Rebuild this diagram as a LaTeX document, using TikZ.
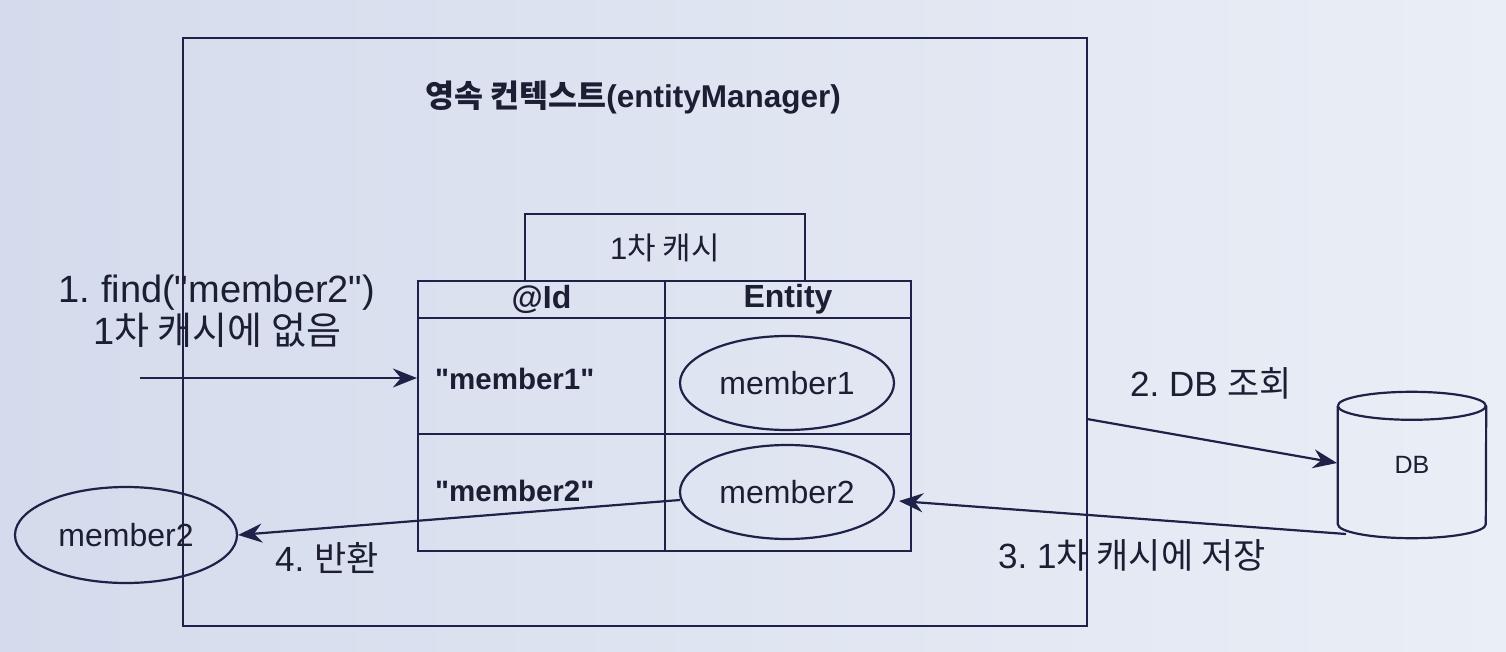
\documentclass[tikz,border=0pt]{standalone}
\usepackage{fontspec}
\setmainfont{Liberation Sans}[Ligatures=TeXOff]
\newfontfamily\kr{Noto Sans CJK KR}
\usetikzlibrary{arrows.meta,shapes.geometric,calc}
\definecolor{ink}{RGB}{30,33,72}
\definecolor{txt}{RGB}{28,30,52}
\definecolor{bgl}{RGB}{212,219,236}
\definecolor{bgr}{RGB}{234,238,246}
\newcommand{\fs}[1]{\fontsize{#1}{\dimexpr#1pt*6/5\relax}\selectfont}
\frenchspacing
\begin{document}
\begin{tikzpicture}[x=1pt,y=-1pt,
  line/.style={draw=ink,line width=2.2pt},
  cell/.style={line,rectangle,inner sep=0pt},
  ell/.style={line,ellipse,inner sep=0pt,minimum width=214pt,minimum height=94pt,text=txt,font=\fs{32}},
  lbl/.style={text=txt,font=\fs{35},inner sep=0pt},
  key/.style={text=txt,font=\fs{29.5}\bfseries,inner sep=0pt,anchor=west},
  arr/.style={draw=ink,line width=2.2pt,-{Stealth[length=24pt,width=19pt,inset=8pt]}}
]
\useasboundingbox (0,0) rectangle (1506,652);
\shade[left color=bgl,right color=bgr] (0,0) rectangle (1506,652);

% persistence context
\node[draw=ink,line width=1.8pt,rectangle,inner sep=0pt,minimum width=904pt,minimum height=588pt] (pc) at (635,332) {};
\node[text=txt,font=\fs{31.5}\bfseries,inner sep=0pt] (title) at (633,98) {{\kr 영속 컨텍스트}(entityManager)};

% cache tab
\node[cell,minimum width=280pt,minimum height=67pt,text=txt,font=\fs{31}] (tab) at (665,247.5) {1{\kr 차 캐시}};

% table
\node[cell,minimum width=247pt,minimum height=37pt,text=txt,font=\fs{32}\bfseries] (idh) at (541.5,299.5) {@Id};
\node[cell,minimum width=246pt,minimum height=37pt,text=txt,font=\fs{32}\bfseries] (enh) at (788,299.5) {Entity};
\node[cell,minimum width=247pt,minimum height=116pt] (r1a) at (541.5,376) {};
\node[cell,minimum width=246pt,minimum height=116pt] (r1b) at (788,376) {};
\node[cell,minimum width=247pt,minimum height=117pt] (r2a) at (541.5,492.5) {};
\node[cell,minimum width=246pt,minimum height=117pt] (r2b) at (788,492.5) {};

\node[key] (k1) at (435,379) {"member1"};
\node[key] (k2) at (435,491) {"member2"};

\node[ell] (m1) at (787,383) {member1};
\node[ell] (m2) at (787,492) {member2};

% returned entity
\node[ell,minimum width=222pt,minimum height=96pt] (out) at (126,535) {member2};

% DB cylinder
\node[text=txt,font=\fs{25},inner sep=0pt,minimum width=148pt,minimum height=146pt] (db) at (1412,465) {DB};
\draw[line] ($(db.north west)+(0,14)$) arc[start angle=180,end angle=-180,x radius=74pt,y radius=14pt];
\draw[line] ($(db.north west)+(0,14)$) -- ($(db.south west)+(0,-14)$) arc[start angle=180,end angle=360,x radius=74pt,y radius=14pt] -- ($(db.north east)+(0,14)$);

% arrows
\coordinate (a1s) at (140,378);
\draw[arr] (a1s) -- (r1a.west |- a1s);
\node[lbl,font=\fs{38},align=center] (l1) at (217,311) {1. find("member2")\\[-4pt]1{\kr 차 캐시에 없음}};

\coordinate (a2s) at (1087,419);
\coordinate (a2e) at (1337,463);
\draw[arr] (a2s) -- (a2e);
\node[lbl,anchor=west] (l2) at (1130,383) {2. DB {\kr 조회}};

\coordinate (a3s) at (1346,534);
\coordinate (a3e) at (899,501);
\draw[arr] (a3s) -- (a3e);
\node[lbl,anchor=west] (l3) at (998,555) {3. 1{\kr 차 캐시에 저장}};

\coordinate (a4s) at (680,500);
\draw[arr] (a4s) -- (out.east);
\node[lbl,anchor=west] (l4) at (275,558) {4. {\kr 반환}};
\end{tikzpicture}
\end{document}
